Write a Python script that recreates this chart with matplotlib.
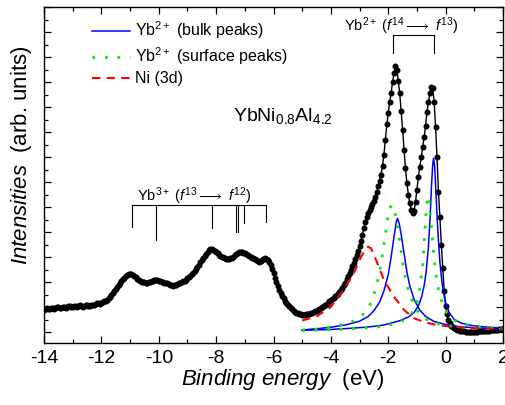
import matplotlib
matplotlib.use("Agg")
import matplotlib.pyplot as plt
from matplotlib.ticker import MultipleLocator, NullFormatter

plt.rcParams['font.family'] = ['Liberation Sans', 'DejaVu Sans']
plt.rcParams['mathtext.fontset'] = 'custom'
plt.rcParams['mathtext.rm'] = 'Liberation Sans'
plt.rcParams['mathtext.it'] = 'Liberation Sans:italic'
plt.rcParams['mathtext.bf'] = 'Liberation Sans:bold'
plt.rcParams['mathtext.sf'] = 'Liberation Sans'

# ---------------- data ----------------
exp_x = [
    -14.00, -13.95, -13.90, -13.85, -13.80, -13.75, -13.70, -13.65, -13.60, -13.55,
    -13.50, -13.45, -13.40, -13.35, -13.30, -13.25, -13.20, -13.15, -13.10, -13.05,
    -13.00, -12.95, -12.90, -12.85, -12.80, -12.75, -12.70, -12.65, -12.60, -12.55,
    -12.50, -12.45, -12.40, -12.35, -12.30, -12.25, -12.20, -12.15, -12.10, -12.05,
    -12.00, -11.95, -11.90, -11.85, -11.80, -11.75, -11.70, -11.65, -11.60, -11.55,
    -11.50, -11.45, -11.40, -11.35, -11.30, -11.25, -11.20, -11.15, -11.10, -11.05,
    -11.00, -10.95, -10.90, -10.85, -10.80, -10.75, -10.70, -10.65, -10.60, -10.55,
    -10.50, -10.45, -10.40, -10.35, -10.30, -10.25, -10.20, -10.15, -10.10, -10.05,
    -10.00, -9.95, -9.90, -9.85, -9.80, -9.75, -9.70, -9.65, -9.60, -9.55,
    -9.50, -9.45, -9.40, -9.35, -9.30, -9.25, -9.20, -9.15, -9.10, -9.05,
    -9.00, -8.95, -8.90, -8.85, -8.80, -8.75, -8.70, -8.65, -8.60, -8.55,
    -8.50, -8.45, -8.40, -8.35, -8.30, -8.25, -8.20, -8.15, -8.10, -8.05,
    -8.00, -7.95, -7.90, -7.85, -7.80, -7.75, -7.70, -7.65, -7.60, -7.55,
    -7.50, -7.45, -7.40, -7.35, -7.30, -7.25, -7.20, -7.15, -7.10, -7.05,
    -7.00, -6.95, -6.90, -6.85, -6.80, -6.75, -6.70, -6.65, -6.60, -6.55,
    -6.50, -6.45, -6.40, -6.35, -6.30, -6.25, -6.20, -6.15, -6.10, -6.05,
    -6.00, -5.95, -5.90, -5.85, -5.80, -5.75, -5.70, -5.65, -5.60, -5.55,
    -5.50, -5.45, -5.40, -5.35, -5.30, -5.25, -5.20, -5.15, -5.10, -5.05,
    -5.00, -4.95, -4.90, -4.85, -4.80, -4.75, -4.70, -4.65, -4.60, -4.55,
    -4.50, -4.45, -4.40, -4.35, -4.30, -4.25, -4.20, -4.15, -4.10, -4.05,
    -4.00, -3.95, -3.90, -3.85, -3.80, -3.75, -3.70, -3.65, -3.60, -3.55,
    -3.50, -3.45, -3.40, -3.35, -3.30, -3.25, -3.20, -3.15, -3.10, -3.05,
    -3.00, -2.95, -2.90, -2.85, -2.80, -2.75, -2.70, -2.65, -2.60, -2.55,
    -2.50, -2.45, -2.40, -2.35, -2.30, -2.25, -2.20, -2.15, -2.10, -2.05,
    -2.00, -1.95, -1.90, -1.85, -1.80, -1.75, -1.70, -1.65, -1.60, -1.55,
    -1.50, -1.45, -1.40, -1.35, -1.30, -1.25, -1.20, -1.15, -1.10, -1.05,
    -1.00, -0.95, -0.90, -0.85, -0.80, -0.75, -0.70, -0.65, -0.60, -0.55,
    -0.50, -0.45, -0.40, -0.35, -0.30, -0.25, -0.20, -0.15, -0.10, -0.05,
    0.00, 0.05, 0.10, 0.15, 0.20, 0.25, 0.30, 0.35, 0.40, 0.45,
    0.50, 0.55, 0.60, 0.65, 0.70, 0.75, 0.80, 0.85, 0.90, 0.95,
    1.00, 1.05, 1.10, 1.15, 1.20, 1.25, 1.30, 1.35, 1.40, 1.45,
    1.50, 1.55, 1.60, 1.65, 1.70, 1.75, 1.80, 1.85, 1.90, 1.95,
    2.00]
exp_y = [
    0.88, 0.93, 0.95, 0.91, 0.92, 0.97, 0.96, 0.93, 0.95, 0.99,
    1.00, 0.96, 0.98, 1.02, 1.02, 0.98, 1.00, 1.04, 1.03, 0.99,
    1.01, 1.05, 1.05, 1.01, 1.03, 1.07, 1.06, 1.02, 1.05, 1.08,
    1.08, 1.04, 1.06, 1.10, 1.10, 1.08, 1.12, 1.16, 1.15, 1.14,
    1.18, 1.22, 1.23, 1.25, 1.30, 1.35, 1.40, 1.47, 1.55, 1.63,
    1.72, 1.80, 1.90, 1.97, 2.05, 2.12, 2.18, 2.24, 2.28, 2.31,
    2.33, 2.31, 2.28, 2.25, 2.20, 2.13, 2.08, 2.04, 2.02, 2.01,
    2.00, 1.97, 1.98, 2.01, 2.02, 2.04, 2.05, 2.09, 2.10, 2.08,
    2.06, 2.05, 2.02, 2.00, 1.98, 1.97, 1.95, 1.92, 1.90, 1.87,
    1.86, 1.88, 1.90, 1.93, 1.95, 1.97, 2.00, 2.03, 2.05, 2.10,
    2.15, 2.20, 2.25, 2.31, 2.38, 2.45, 2.52, 2.61, 2.70, 2.79,
    2.88, 2.97, 3.05, 3.14, 3.22, 3.28, 3.32, 3.31, 3.28, 3.24,
    3.20, 3.15, 3.10, 3.06, 3.02, 2.99, 2.96, 2.94, 2.92, 2.93,
    2.95, 2.98, 3.02, 3.07, 3.12, 3.18, 3.22, 3.22, 3.20, 3.18,
    3.15, 3.12, 3.08, 3.04, 3.00, 2.98, 2.95, 2.91, 2.88, 2.85,
    2.82, 2.85, 2.88, 2.92, 2.95, 2.94, 2.90, 2.82, 2.70, 2.53,
    2.35, 2.17, 2.00, 1.83, 1.68, 1.56, 1.45, 1.35, 1.25, 1.17,
    1.10, 1.04, 0.98, 0.92, 0.86, 0.82, 0.78, 0.75, 0.73, 0.71,
    0.70, 0.69, 0.70, 0.71, 0.72, 0.74, 0.76, 0.78, 0.80, 0.83,
    0.86, 0.89, 0.92, 0.96, 1.00, 1.04, 1.08, 1.13, 1.18, 1.23,
    1.28, 1.33, 1.38, 1.43, 1.48, 1.54, 1.60, 1.69, 1.78, 1.88,
    1.98, 2.11, 2.25, 2.37, 2.50, 2.64, 2.78, 2.93, 3.08, 3.26,
    3.45, 3.65, 3.90, 4.18, 4.40, 4.60, 4.75, 4.90, 5.02, 5.12,
    5.25, 5.40, 5.60, 5.85, 6.05, 6.30, 6.65, 7.10, 7.70, 8.30,
    8.75, 9.20, 9.55, 10.00, 10.35, 10.65, 10.50, 10.05, 9.55, 8.85,
    8.10, 7.30, 6.55, 5.95, 5.50, 5.15, 4.88, 4.78, 4.85, 5.20,
    5.70, 6.20, 6.60, 7.00, 7.40, 7.80, 8.25, 8.80, 9.20, 9.55,
    9.80, 9.75, 9.20, 8.20, 7.00, 5.60, 4.60, 3.50, 2.55, 1.65,
    1.05, 0.72, 0.50, 0.35, 0.25, 0.19, 0.15, 0.12, 0.09, 0.07,
    0.05, 0.04, 0.03, 0.03, 0.02, 0.02, 0.01, 0.01, 0.01, 0.02,
    0.02, 0.02, 0.02, 0.03, 0.03, 0.04, 0.04, 0.05, 0.05, 0.06,
    0.06, 0.07, 0.08, 0.08, 0.09, 0.10, 0.10, 0.11, 0.11, 0.12,
    0.12]

bulk1_x = [-5.0, -4.5, -4.0, -3.5, -3.0, -2.7, -2.5, -2.3, -2.15, -2.0, -1.9, -1.8,
           -1.72, -1.68, -1.62, -1.55, -1.45, -1.35, -1.25, -1.1, -0.9, -0.7, -0.4,
           0.0, 0.5, 1.0, 1.5, 2.0]
bulk1_y = [0.08, 0.13, 0.19, 0.28, 0.43, 0.62, 0.85, 1.20, 1.65, 2.30, 3.00, 3.80,
           4.40, 4.55, 4.35, 3.90, 3.15, 2.40, 1.85, 1.30, 0.88, 0.62, 0.42,
           0.30, 0.21, 0.17, 0.14, 0.13]

bulk2_x = [-5.0, -4.0, -3.3, -2.7, -2.15, -1.6, -1.3, -1.1, -0.95, -0.85, -0.75, -0.68,
           -0.6, -0.54, -0.49, -0.45, -0.42, -0.38, -0.33, -0.27, -0.2, -0.12, -0.02,
           0.12, 0.3, 0.55, 0.9, 1.4, 2.0]
bulk2_y = [0.07, 0.10, 0.15, 0.20, 0.28, 0.45, 0.60, 0.78, 1.05, 1.35, 1.85, 2.40,
           3.40, 4.60, 5.90, 6.70, 6.95, 6.60, 5.40, 4.00, 2.80, 1.90, 1.25,
           0.78, 0.50, 0.35, 0.26, 0.20, 0.15]

surf1_x = [-5.0, -4.5, -4.0, -3.6, -3.25, -2.9, -2.7, -2.55, -2.4, -2.27, -2.15, -2.03,
           -1.95, -1.88, -1.8, -1.7, -1.6, -1.5, -1.4, -1.27, -1.1, -0.9, -0.6, -0.2,
           0.4, 1.0, 2.0]
surf1_y = [0.08, 0.12, 0.20, 0.30, 0.42, 0.68, 0.95, 1.30, 1.90, 2.60, 3.50, 4.50,
           4.95, 5.08, 4.95, 4.40, 3.60, 2.80, 2.15, 1.55, 1.05, 0.70, 0.45, 0.30,
           0.20, 0.15, 0.12]

surf2_x = [-5.0, -4.0, -3.0, -2.2, -1.7, -1.4, -1.2, -1.05, -0.95, -0.87, -0.8, -0.74,
           -0.68, -0.63, -0.57, -0.5, -0.43, -0.35, -0.25, -0.12, 0.05, 0.3, 0.7,
           1.2, 2.0]
surf2_y = [0.06, 0.09, 0.14, 0.22, 0.35, 0.50, 0.72, 1.00, 1.40, 1.95, 2.70, 3.70,
           4.80, 5.45, 5.20, 4.30, 3.30, 2.40, 1.70, 1.15, 0.75, 0.47, 0.30,
           0.20, 0.14]

ni_x = [-5.0, -4.5, -4.0, -3.55, -3.2, -2.95, -2.8, -2.71, -2.6, -2.45, -2.38, -2.15,
        -1.8, -1.45, -1.1, -0.7, -0.3, 0.3, 1.0, 2.0]
ni_y = [0.46, 0.62, 1.00, 1.68, 2.35, 3.00, 3.30, 3.41, 3.35, 2.95, 2.75, 2.08,
        1.41, 0.88, 0.55, 0.38, 0.28, 0.20, 0.15, 0.12]

# annotation brackets (binding energies of multiplet lines)
yb3_lines = [-10.94, -10.09, -8.14, -7.30, -7.24, -7.04, -6.26]
yb3_lines_bottom = [4.21, 3.68, 4.15, 4.01, 4.01, 4.37, 4.41]
yb3_bar = 5.08
yb2_lines = [-1.85, -0.40]
yb2_lines_bottom = [11.15, 11.15]
yb2_bar = 11.88

legend_labels = [r'Yb$^{2+}$ (bulk peaks)', r'Yb$^{2+}$ (surface peaks)', 'Ni (3d)']
xtick_vals = [-14, -12, -10, -8, -6, -4, -2, 0, 2]
xtick_labels = ['-14', '-12', '-10', '-8', '-6', '-4', '-2', '0', '2']

# ---------------- figure ----------------
fig = plt.figure(figsize=(5.05, 4.05), dpi=100)
ax = fig.add_axes([44/505, 1-343/405, (503-44)/505, (343-7)/405])

ax.plot(exp_x, exp_y, color='black', lw=1.0, marker='o', ms=3.3,
        mec='black', mfc='black', zorder=2)

lb, = ax.plot(bulk1_x, bulk1_y, color='#0000ff', lw=1.1, zorder=3)
ax.plot(bulk2_x, bulk2_y, color='#0000ff', lw=1.1, zorder=3)
ls, = ax.plot(surf1_x, surf1_y, color='#00ee00', lw=2.0, ls=(0, (1, 3.5)), zorder=3)
ax.plot(surf2_x, surf2_y, color='#00ee00', lw=2.0, ls=(0, (1, 3.5)), zorder=3)
ln, = ax.plot(ni_x, ni_y, color='#ff0000', lw=1.5, ls=(0, (4, 3)), zorder=3)

# brackets
ax.plot([yb3_lines[0], yb3_lines[-1]], [yb3_bar, yb3_bar], color='black', lw=0.8)
for xv, yb in zip(yb3_lines, yb3_lines_bottom):
    ax.plot([xv, xv], [yb3_bar, yb], color='black', lw=0.8)
ax.plot([yb2_lines[0], yb2_lines[-1]], [yb2_bar, yb2_bar], color='black', lw=0.8)
for xv, yb in zip(yb2_lines, yb2_lines_bottom):
    ax.plot([xv, xv], [yb2_bar, yb], color='black', lw=0.8)

ax.text(-10.76, 5.25, r'Yb$^{3+}$ ($f^{13}$$\longrightarrow$ $f^{12}$)', fontsize=10.5,
        ha='left', va='baseline')
ax.text(-3.555, 12.05, r'Yb$^{2+}$ ($f^{14}$$\longrightarrow$ $f^{13}$)', fontsize=10.5,
        ha='left', va='baseline')
ax.text(-7.40, 8.45, r'YbNi$_{0.8}$Al$_{4.2}$', fontsize=14, ha='left', va='baseline')

ax.set_xlim(-14, 2)
ax.set_ylim(-0.44, 13.0)
ax.set_xticks(xtick_vals)
ax.set_xticklabels(xtick_labels)
ax.xaxis.set_minor_locator(MultipleLocator(1))
ax.yaxis.set_major_locator(MultipleLocator(1))
ax.yaxis.set_minor_locator(MultipleLocator(0.5))
ax.yaxis.set_major_formatter(NullFormatter())
ax.tick_params(which='both', direction='in', top=True, right=True, labelsize=14, pad=5)
ax.tick_params(which='major', length=5, width=0.9)
ax.tick_params(which='minor', length=2.7, width=0.9)
for s in ax.spines.values():
    s.set_linewidth(1.0)

ax.set_xlabel(r'$Binding\ energy$  (eV)', fontsize=16)
ax.xaxis.set_label_coords(0.52, -0.07)
ax.set_ylabel(r'$Intensities$  (arb. units)', fontsize=16)
ax.yaxis.set_label_coords(-0.022, 0.56)

ax.legend([lb, ls, ln], legend_labels, loc='upper left', bbox_to_anchor=(0.1046, 0.962),
          frameon=False, fontsize=11.5, handlelength=2.4, handletextpad=0.3,
          labelspacing=0.25, borderpad=0, borderaxespad=0)

fig.savefig('out.png', dpi=100)
